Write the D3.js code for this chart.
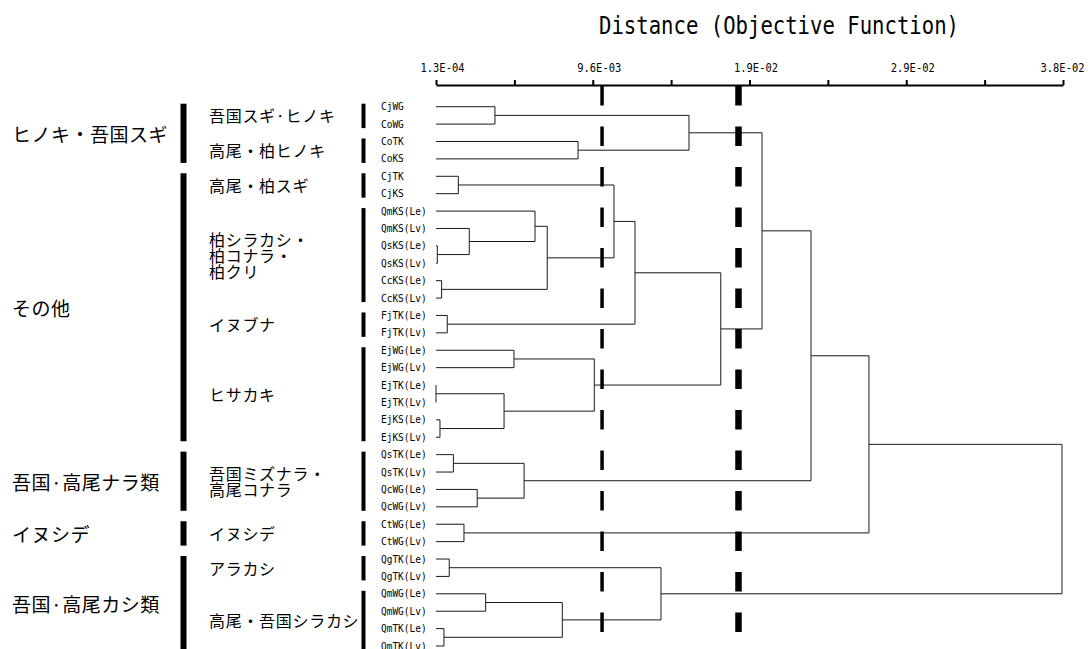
<!DOCTYPE html>
<html>
<head>
<meta charset="utf-8">
<script src="https://cdn.jsdelivr.net/npm/d3@7"></script>
<style>
  body { margin: 0; background: #fff; }
  svg { display: block; }
</style>
</head>
<body>
<div id="chart"></div>
<script>
// leaf labels, top to bottom
const leafNames = [
  "CjWG", "CoWG", "CoTK", "CoKS", "CjTK", "CjKS",
  "QmKS(Le)", "QmKS(Lv)", "QsKS(Le)", "QsKS(Lv)", "CcKS(Le)", "CcKS(Lv)",
  "FjTK(Le)", "FjTK(Lv)", "EjWG(Le)", "EjWG(Lv)", "EjTK(Le)", "EjTK(Lv)",
  "EjKS(Le)", "EjKS(Lv)", "QsTK(Le)", "QsTK(Lv)", "QcWG(Le)", "QcWG(Lv)",
  "CtWG(Le)", "CtWG(Lv)", "QgTK(Le)", "QgTK(Lv)", "QmWG(Le)", "QmWG(Lv)",
  "QmTK(Le)", "QmTK(Lv)"
];

// merges: [a, b, distance]; index < 32 is a leaf, 32 + k is merge k
const merges = [
  [0, 1, 3.69e-3],    // 32
  [2, 3, 8.71e-3],    // 33
  [32, 33, 15.41e-3], // 34
  [4, 5, 1.48e-3],    // 35
  [8, 9, 0.21e-3],    // 36
  [7, 36, 2.14e-3],   // 37
  [6, 37, 6.11e-3],   // 38
  [10, 11, 0.47e-3],  // 39
  [38, 39, 6.85e-3],  // 40
  [35, 40, 10.88e-3], // 41
  [12, 13, 0.81e-3],  // 42
  [41, 42, 12.15e-3], // 43
  [14, 15, 4.84e-3],  // 44
  [16, 17, 0.13e-3],  // 45
  [18, 19, 0.37e-3],  // 46
  [45, 46, 4.24e-3],  // 47
  [44, 47, 9.69e-3],  // 48
  [43, 48, 17.33e-3], // 49
  [34, 49, 19.82e-3], // 50
  [20, 21, 1.18e-3],  // 51
  [22, 23, 2.62e-3],  // 52
  [51, 52, 5.45e-3],  // 53
  [50, 53, 22.78e-3], // 54
  [24, 25, 1.82e-3],  // 55
  [54, 55, 26.28e-3], // 56
  [26, 27, 0.93e-3],  // 57
  [28, 29, 3.13e-3],  // 58
  [30, 31, 0.61e-3],  // 59
  [58, 59, 7.76e-3],  // 60
  [57, 60, 13.72e-3], // 61
  [56, 61, 37.94e-3]  // 62
];

// axis
const distDomain = [1.3e-4, 3.8e-2];
const tickLabels = ["1.3E-04", "9.6E-03", "1.9E-02", "2.9E-02", "3.8E-02"];
const cutLines = [10.16e-3, 18.40e-3];

// groups (outer) and subgroups (inner), given as leaf index spans
const groupNames = ["ヒノキ・吾国スギ", "その他", "吾国·高尾ナラ類", "イヌシデ", "吾国·高尾カシ類"];
const groupSpans = [[0, 3], [4, 19], [20, 23], [24, 25], [26, 31]];
const subNames = [
  "吾国スギ·ヒノキ", "高尾・柏ヒノキ", "高尾・柏スギ", "柏シラカシ・\n柏コナラ・\n柏クリ",
  "イヌブナ", "ヒサカキ", "吾国ミズナラ・\n高尾コナラ", "イヌシデ", "アラカシ", "高尾・吾国シラカシ"
];
const subSpans = [[0, 1], [2, 3], [4, 5], [6, 11], [12, 13], [14, 19], [20, 23], [24, 25], [26, 27], [28, 31]];

const width = 1088, height = 649;
const jp = "'Noto Sans CJK JP', sans-serif";
const mono = "'DejaVu Sans Mono', monospace";

const svg = d3.select("#chart").append("svg")
  .attr("width", width)
  .attr("height", height);

svg.append("rect").attr("width", width).attr("height", height).attr("fill", "#fff");

const x = d3.scaleLinear().domain(distDomain).range([436, 1063]);
const y = d3.scalePoint().domain(leafNames).range([106.7, 646]);

// title
svg.append("text")
  .attr("x", 779)
  .attr("y", 34)
  .attr("text-anchor", "middle")
  .attr("font-family", mono)
  .attr("font-size", 24)
  .attr("textLength", 360)
  .attr("lengthAdjust", "spacingAndGlyphs")
  .attr("fill", "#000")
  .text("Distance (Objective Function)");

// axis on top, 8 intervals, labels on every other tick
const nInt = 8;
const tickVals = d3.range(nInt + 1).map(i => distDomain[0] + i * (distDomain[1] - distDomain[0]) / nInt);
const axis = d3.axisTop(x)
  .tickValues(tickVals)
  .tickSizeInner(5)
  .tickSizeOuter(0)
  .tickFormat((d, i) => i % 2 === 0 ? tickLabels[i / 2] : "");

const gAxis = svg.append("g")
  .attr("transform", "translate(0,85)")
  .call(axis);
gAxis.select(".domain").attr("stroke", "#000").attr("stroke-width", 2);
gAxis.selectAll(".tick line").attr("stroke", "#000").attr("stroke-width", 2);
gAxis.selectAll(".tick text")
  .attr("font-family", mono)
  .attr("font-size", 12)
  .attr("fill", "#000")
  .attr("text-anchor", "start")
  // keep the last label inside the page
  .attr("x", d => Math.min(-16, width - 4 - 44 - x(d)))
  .attr("y", -13)
  .attr("dy", "0")
  .attr("textLength", 44)
  .attr("lengthAdjust", "spacingAndGlyphs");

// build node positions from the merge table
const nodes = leafNames.map(name => ({ name, h: distDomain[0], px: x(distDomain[0]), py: y(name) }));
merges.forEach(([a, b, h]) => {
  const na = nodes[a], nb = nodes[b];
  nodes.push({ a: na, b: nb, h, px: x(h), py: (na.py + nb.py) / 2 });
});

const gTree = svg.append("g")
  .attr("fill", "none")
  .attr("stroke", "#1a1a1a")
  .attr("stroke-width", 1);

nodes.filter(n => n.a).forEach(n => {
  [n.a, n.b].forEach(c => {
    gTree.append("line")
      .attr("x1", c.px).attr("x2", n.px)
      .attr("y1", c.py).attr("y2", c.py);
  });
  gTree.append("line")
    .attr("x1", n.px).attr("x2", n.px)
    .attr("y1", n.a.py).attr("y2", n.b.py);
});

// leaf labels
svg.append("g").selectAll("text")
  .data(leafNames)
  .enter()
  .append("text")
  .attr("x", 381)
  .attr("y", d => y(d))
  .attr("dominant-baseline", "central")
  .attr("font-family", mono)
  .attr("font-size", 10)
  .attr("textLength", d => d.length * 5.7)
  .attr("lengthAdjust", "spacingAndGlyphs")
  .attr("fill", "#000")
  .text(d => d);

// cut lines (thin and thick dashed)
svg.append("g").selectAll("line")
  .data(cutLines)
  .enter()
  .append("line")
  .attr("x1", d => x(d)).attr("x2", d => x(d))
  .attr("y1", 86).attr("y2", height)
  .attr("stroke", "#000")
  .attr("stroke-width", (d, i) => i === 0 ? 3.5 : 6.5)
  .attr("stroke-dasharray", "19.5,21");

// group bars and labels
function drawBrackets(names, spans, barX, barW, textX, fontSize, spacing, lineH) {
  const g = svg.append("g");
  spans.forEach((s, i) => {
    const y0 = y(leafNames[s[0]]) - 3;
    const y1 = y(leafNames[s[1]]) + 4;
    g.append("rect")
      .attr("x", barX - barW / 2)
      .attr("y", y0)
      .attr("width", barW)
      .attr("height", y1 - y0)
      .attr("fill", "#000");
    const lines = names[i].split("\n");
    const cy = (y(leafNames[s[0]]) + y(leafNames[s[1]])) / 2;
    const t = g.append("text")
      .attr("font-family", jp)
      .attr("font-size", fontSize)
      .attr("letter-spacing", spacing)
      .attr("fill", "#000")
      .attr("dominant-baseline", "central");
    lines.forEach((ln, j) => {
      t.append("tspan")
        .attr("x", textX)
        .attr("y", cy + (j - (lines.length - 1) / 2) * lineH)
        .text(ln);
    });
  });
}

drawBrackets(groupNames, groupSpans, 183.5, 6, 12, 19, 0.5, 20);
drawBrackets(subNames, subSpans, 363.5, 4, 209, 16, 0.7, 16);
</script>
</body>
</html>
